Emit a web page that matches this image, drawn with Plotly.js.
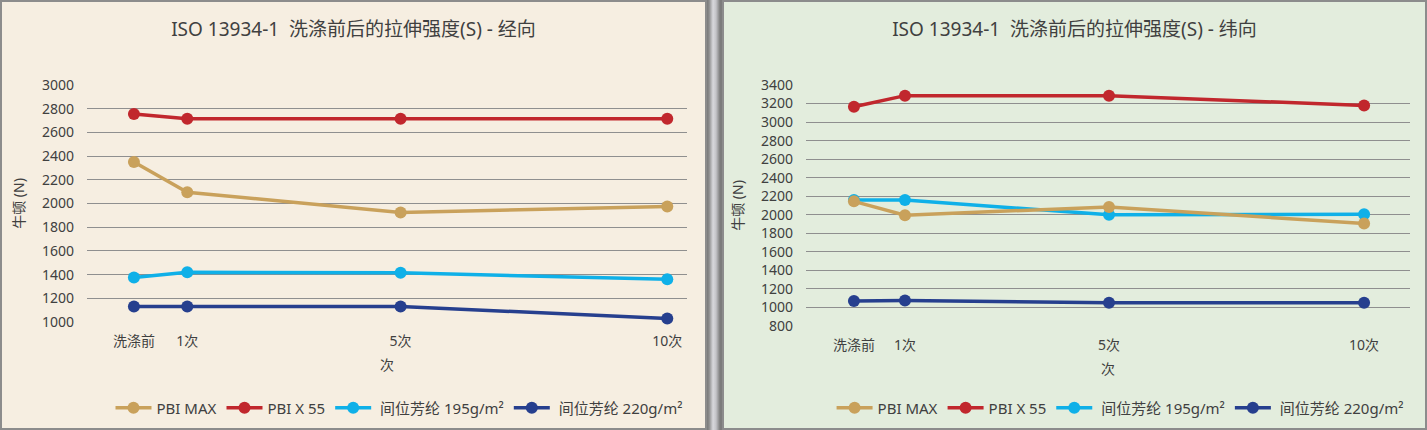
<!DOCTYPE html>
<html>
<head>
<meta charset="utf-8">
<script src="https://cdn.plot.ly/plotly-3.0.1.min.js"></script>
<style>
	html, body { margin: 0; padding: 0; background: #ffffff; }
	#wrap { position: relative; width: 1427px; height: 430px; overflow: hidden;
		background: linear-gradient(to right, #7a7a7a 0px, #7a7a7a 707px, #8a8a8a 709px, #d8d8dc 713px, #c4c4c8 716px, #7c7c7c 720px, #7c7c7c 1427px); }
	.panel { position: absolute; top: 0; height: 430px; box-sizing: border-box; border: 2px solid #8c8c8c; }
	#p1 { left: 0; width: 707px; background: #f6eee1; }
	#p2 { left: 722px; width: 705px; background: #e3eddd; }
	.plot { width: 100%; height: 426px; }
</style>
</head>
<body>
<div id="wrap">
	<div class="panel" id="p1"><div class="plot" id="plot1"></div></div>
	<div class="panel" id="p2"><div class="plot" id="plot2"></div></div>
</div>
<script>
// wash counts and their labels
var xVals = [0, 1, 5, 10];
var xLabels = ['洗涤前', '1次', '5次', '10次'];

var seriesNames = ['PBI MAX', 'PBI X 55', ' 间位芳纶 195g/m²', ' 间位芳纶 220g/m²'];
var seriesColors = ['#c9a15b', '#c1272d', '#0fb0e8', '#263f8e'];

// warp (经向), N
var warpPbiMax = [2350, 2095, 1925, 1975];
var warpPbiX55 = [2755, 2715, 2715, 2715];
var warp195 = [1375, 1420, 1415, 1360];
var warp220 = [1130, 1130, 1130, 1030];

// weft (纬向), N
var weftPbiMax = [2145, 1995, 2085, 1905];
var weftPbiX55 = [3165, 3285, 3285, 3180];
var weft195 = [2160, 2160, 2000, 2005];
var weft220 = [1070, 1075, 1050, 1050];

var fontFamily = '"Noto Sans", "Noto Sans CJK SC", sans-serif';
var textColor = '#404040';

function makeTraces(valueSets) {
	var traces = [];
	// draw back to front so PBI MAX ends on top, like the original
	for (var i = valueSets.length - 1; i >= 0; i--) {
		traces.push({
			x: xVals,
			y: valueSets[i],
			name: seriesNames[i],
			mode: 'lines+markers',
			cliponaxis: false,
			line: { color: seriesColors[i], width: 3.5 },
			marker: { color: seriesColors[i], size: 12 }
		});
	}
	return traces;
}

function makeLayout(title, xRange, yRange, margin, legendX) {
	return {
		width: 703,
		height: 426,
		hovermode: false,
		showlegend: true,
		paper_bgcolor: 'rgba(0,0,0,0)',
		plot_bgcolor: 'rgba(0,0,0,0)',
		margin: margin,
		font: { family: fontFamily, size: 14, color: textColor },
		title: {
			text: title,
			font: { family: fontFamily, size: 19, color: textColor },
			x: 0.5, xanchor: 'center',
			y: 0.935, yanchor: 'middle'
		},
		legend: {
			orientation: 'h',
			traceorder: 'reversed',
			xref: 'paper', x: legendX, xanchor: 'center',
			yref: 'container', y: 0.047, yanchor: 'middle',
			font: { family: fontFamily, size: 15, color: textColor },
			itemwidth: 36
		},
		xaxis: {
			range: xRange,
			autorange: false,
			automargin: false,
			tickmode: 'array',
			tickvals: xVals,
			ticktext: xLabels,
			showgrid: false,
			zeroline: false,
			showline: false,
			ticks: '',
			ticklabelstandoff: 9,
			tickfont: { size: 14, color: textColor },
			title: { text: '次', standoff: 11, font: { size: 14, color: textColor } }
		},
		yaxis: {
			range: yRange,
			autorange: false,
			automargin: false,
			dtick: 200,
			showgrid: true,
			gridcolor: '#8f8f8f',
			gridwidth: 1,
			zeroline: false,
			showline: false,
			ticks: '',
			ticklabelstandoff: 12,
			tickfont: { size: 14, color: textColor },
			title: { text: '牛顿 (N)', standoff: 14, font: { size: 14, color: textColor } }
		}
	};
}

var config = { displayModeBar: false, staticPlot: true };

var layout1 = makeLayout('ISO 13934-1  洗涤前后的拉伸强度(S) - 经向', [-0.88, 10.37], [1000, 3000],
	{ l: 85, r: 18, t: 83, b: 106 }, 0.52);
var layout2 = makeLayout('ISO 13934-1  洗涤前后的拉伸强度(S) - 纬向', [-0.94, 10.9], [800, 3400],
	{ l: 82, r: 15, t: 83, b: 102 }, 0.52);
layout2.width = 701;

Plotly.newPlot('plot1', makeTraces([warpPbiMax, warpPbiX55, warp195, warp220]), layout1, config);
Plotly.newPlot('plot2', makeTraces([weftPbiMax, weftPbiX55, weft195, weft220]), layout2, config);
</script>
</body>
</html>
